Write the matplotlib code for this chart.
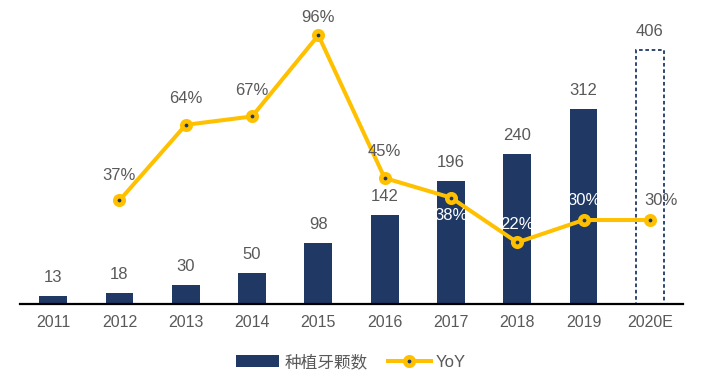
import matplotlib
matplotlib.use("Agg")
import matplotlib.pyplot as plt
from matplotlib.lines import Line2D
from matplotlib.patches import Patch

plt.rcParams['font.family'] = ['Liberation Sans', 'Noto Sans CJK SC', 'DejaVu Sans']

years = ['2011', '2012', '2013', '2014', '2015', '2016', '2017', '2018', '2019', '2020E']
implants = [13, 18, 30, 50, 98, 142, 196, 240, 312, 406]
yoy_years = ['2012', '2013', '2014', '2015', '2016', '2017', '2018', '2019', '2020E']
yoy = [37, 64, 67, 96, 45, 38, 22, 30, 30]

navy = '#1F3864'
gold = '#FFC000'
grey = '#595959'

fig = plt.figure(figsize=(7.02, 3.88), dpi=100)
ax = fig.add_axes([20 / 702, 84 / 388, 663 / 702, 304 / 388])
x = list(range(len(years)))

# bars, last one is an estimate -> dashed outline
for i, v in enumerate(implants):
    if years[i].endswith('E'):
        ax.bar(i, v, width=0.42, facecolor='white', edgecolor=navy, linestyle=(0, (2, 1.5)), linewidth=1.3)
    else:
        ax.bar(i, v, width=0.42, color=navy)
    ax.annotate(str(v), (i, v), xytext=(0, 8), textcoords='offset points',
                ha='center', va='bottom', fontsize=12, color=grey)

ax.set_xlim(-0.5, len(years) - 0.5)
ax.set_ylim(0, 486)
ax.set_xticks(x)
ax.set_xticklabels(years, fontsize=11.5, color=grey)
ax.tick_params(axis='x', length=0, pad=8)
ax.set_yticks([])
for s in ['top', 'right', 'left']:
    ax.spines[s].set_visible(False)
ax.spines['bottom'].set_linewidth(1.6)
ax.spines['bottom'].set_color('black')

ax2 = ax.twinx()
ax2.set_ylim(0, 108.6)
ax2.set_yticks([])
for s in ['top', 'right', 'left', 'bottom']:
    ax2.spines[s].set_visible(False)
xl = [years.index(y) for y in yoy_years]
ax2.plot(xl, yoy, color=gold, linewidth=2.9, marker='o', markersize=6.1,
         markerfacecolor=navy, markeredgecolor=gold, markeredgewidth=3.3)

# label offsets (points) and colours for the percentages
offs = [(0, 18), (0, 19), (0, 19), (0, 13), (0, 19), (0, -13), (0, 13), (0, 14), (8, 14)]
cols = [grey, grey, grey, grey, grey, 'white', 'white', 'white', grey]
for xi, v, o, c in zip(xl, yoy, offs, cols):
    ax2.annotate(f'{v}%', (xi, v), xytext=o, textcoords='offset points',
                 ha='center', va='center', fontsize=12, color=c)

handles = [Patch(facecolor=navy),
           Line2D([], [], color=gold, linewidth=2.9, marker='o', markersize=6.1,
                  markerfacecolor=navy, markeredgecolor=gold, markeredgewidth=3.3)]
fig.legend(handles, ['种植牙颗数', 'YoY'], loc='center', bbox_to_anchor=(0.5, 26 / 388),
           ncol=2, frameon=False, fontsize=12, labelcolor=grey, handlelength=2.6,
           columnspacing=1.2, handletextpad=0.3)

fig.savefig('out.png', dpi=100)
